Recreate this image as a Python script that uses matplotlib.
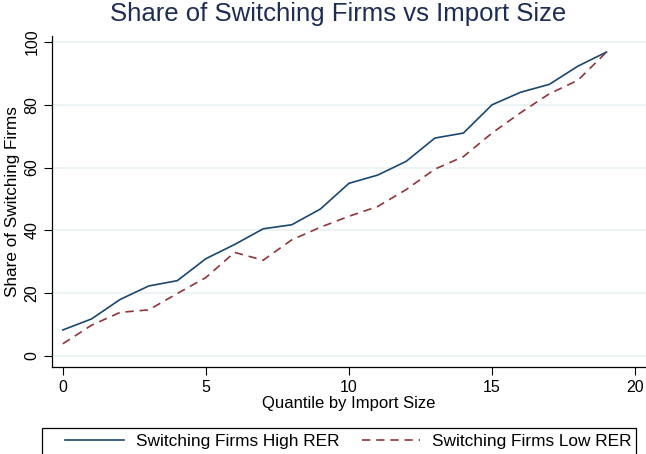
import numpy as np
import matplotlib.pyplot as plt
from matplotlib.patches import Rectangle

plt.rcParams['font.family'] = ['Liberation Sans', 'DejaVu Sans']

quantile = list(range(20))
high_rer = [8.3, 11.8, 18.0, 22.3, 24.0, 31.0, 35.5, 40.5, 41.8, 46.8,
            55.0, 57.6, 62.0, 69.4, 71.0, 80.0, 84.0, 86.5, 92.3, 96.8]
low_rer = [3.9, 9.8, 13.9, 14.7, 19.9, 25.0, 33.0, 30.5, 37.0, 41.0,
           44.5, 47.6, 53.0, 59.5, 63.5, 71.0, 77.5, 83.5, 87.8, 96.8]

navy = '#1a476f'
maroon = '#90353b'

W, H = 646, 454
fig = plt.figure(figsize=(6.46, 4.54), dpi=100)
ax = fig.add_axes([52 / W, (H - 367) / H, (W - 52) / W, (367 - 35.7) / H])

ax.plot(quantile, high_rer, color=navy, lw=1.2, label='Switching Firms High RER')
ax.plot(quantile, low_rer, color=maroon, lw=1.2, dashes=(5, 3.5),
        label='Switching Firms Low RER')

ax.set_xlim(-0.38, 20.38)
ax.set_ylim(-3.5, 102)
ax.set_xticks([0, 5, 10, 15, 20])
ax.set_yticks([0, 20, 40, 60, 80, 100])
ax.set_yticklabels(['0', '20', '40', '60', '80', '100'], rotation=90, va='center')
ax.tick_params(labelsize=11.5, color='black', length=6, width=0.8)
ax.tick_params(axis='y', pad=3)
ax.tick_params(axis='x', pad=3)
ax.grid(axis='y', color='#eaf2f3', lw=1.2)
ax.set_axisbelow(True)
for s in ['top', 'right']:
    ax.spines[s].set_visible(False)
for s in ['left', 'bottom']:
    ax.spines[s].set_linewidth(0.9)

ax.set_xlabel('Quantile by Import Size', fontsize=12, labelpad=1)
ax.set_ylabel('Share of Switching Firms', fontsize=12.3, labelpad=3)
fig.text(338 / W, 1 - 14 / H, 'Share of Switching Firms vs Import Size', ha='center',
         va='center', fontsize=18.5, color='#1e2d53')

# legend frame, cut off by the bottom edge like the reference
fig.patches.append(Rectangle((42 / W, -0.05), 594 / W, 0.05 + (H - 428) / H,
                             transform=fig.transFigure, fill=False,
                             edgecolor='black', lw=0.9))
leg = fig.legend(loc='center left', bbox_to_anchor=(65 / W, 1 - 441 / H, 567 / W, 0),
                 mode='expand', ncol=2, fontsize=12.4, frameon=False,
                 handlelength=3.4, handletextpad=0.7, borderaxespad=0, borderpad=0)

fig.savefig('out.png', dpi=100)
